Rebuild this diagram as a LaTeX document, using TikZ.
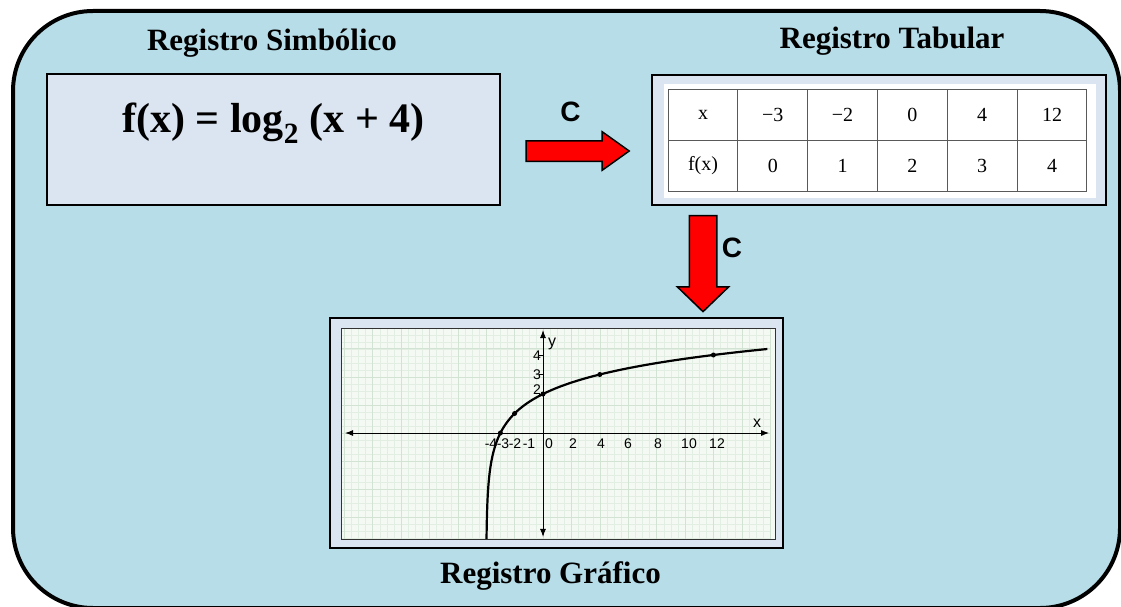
\documentclass[tikz,border=0pt]{standalone}
\usepackage{fontspec}
\setmainfont{Liberation Serif}
\setsansfont{Liberation Sans}
\usetikzlibrary{arrows.meta, positioning, shapes.arrows, matrix}
\definecolor{bgblue}{HTML}{B7DDE8}
\definecolor{boxblue}{HTML}{DBE5F1}
\definecolor{plotbg}{HTML}{F4F9F3}
\definecolor{gridminor}{HTML}{E3EEE3}
\definecolor{gridmajor}{HTML}{D3E3D3}

\begin{document}
\begin{tikzpicture}[x=1pt, y=-1pt,
    panel/.style={draw, line width=2pt, fill=boxblue, inner sep=0pt},
    regtitle/.style={font=\bfseries\fontsize{31}{36}\selectfont},
    convlabel/.style={font=\sffamily\bfseries\fontsize{28}{32}\selectfont},
    convarrow/.style={single arrow, draw, line width=1.5pt, fill=red,
                      single arrow head indent=0pt},
    cell/.style={draw=black!65, line width=1pt, minimum width=69.8pt, minimum height=51pt,
                 inner sep=0pt, anchor=center, font=\fontsize{20}{24}\selectfont},
    ticklab/.style={font=\sffamily\fontsize{14}{16}\selectfont, inner sep=0pt},
    dot/.style={circle, fill, inner sep=0pt, minimum size=5pt}]
  \useasboundingbox (0,0) rectangle (1121,607);
  \draw[line width=4pt, fill=bgblue, rounded corners=80pt] (13,11) rectangle (1120,608);

  % the three registers
  \node[panel, minimum width=453pt, minimum height=131pt] (symb) at (273.5,139.5) {};
  \node[panel, minimum width=454pt, minimum height=130pt] (tabbox) at (879,140) {};
  \node[panel, minimum width=453pt, minimum height=230pt] (graphbox) at (556.5,433) {};
  \node[regtitle, above=12pt of symb, xshift=-1.5pt] (titS) {Registro Simbólico};
  \node[regtitle, above=15pt of tabbox, xshift=13pt] (titT) {Registro Tabular};
  \node[regtitle, below=9pt of graphbox, xshift=-6pt] (titG) {Registro Gráfico};
  \node[font=\bfseries\fontsize{42}{48}\selectfont, below=26pt of symb.north] (formula)
    {f(x) = log\textsubscript{2} (x + 4)};

  % table
  \node[fill=white, minimum width=432pt, minimum height=114pt, inner sep=0pt] (tabin) at (880,141) {};
  \matrix (tab) [matrix of nodes, nodes={cell}, column sep=-1pt, row sep=-1pt] at (877.5,140) {
    x    & −3 & −2 & 0 & 4 & 12 \\
    f(x) & 0  & 1  & 2 & 3 & 4  \\
  };

  % conversions
  \node[convarrow, inner xsep=0pt, inner ysep=9.5pt, minimum height=103pt,
        single arrow head extend=9pt, single arrow tip angle=71] (toTab) at (570.5,151) {};
  \node[convlabel, above=15pt of toTab] (cS) {C};
  \node[convarrow, shape border rotate=270, inner xsep=13pt, inner ysep=0pt, minimum height=96pt,
        single arrow head extend=12pt, single arrow tip angle=92] (toGraph) at (703,257) {};
  \node[convlabel] (cT) at (732,248) {C};

  % graph
  \node[fill=plotbg, minimum width=433pt, minimum height=210pt, inner sep=0pt] (plotarea) at (558.5,434) {};
  \begin{scope}[shift={(543,433)}, x=14.2pt, y=19.5pt]
    \begin{scope}
      \clip (plotarea.south west) rectangle (plotarea.north east);
      \draw[gridminor, line width=0.4pt, step={(0.5,0.36)}] (-16,-6) grid (16,6);
      \draw[gridmajor, line width=0.6pt, step={(2,1.44)}] (-16,-6) grid (16,6);
      \draw[line width=2.2pt, smooth] plot[domain=-5.45:4.31, samples=150, variable=\t]
        ({pow(2,\t)-4}, \t);
    \end{scope}
    \coordinate (xl) at (-13.94,0);
    \coordinate (xr) at (15.92,0);
    \coordinate (yt) at (0,5.28);
    \coordinate (yb) at (0,-5.33);
    \draw[line width=0.9pt, {Latex[length=8pt,width=6pt]}-{Latex[length=8pt,width=6pt]}] (xl) -- (xr);
    \draw[line width=0.9pt, {Latex[length=8pt,width=6pt]}-{Latex[length=8pt,width=6pt]}] (yb) -- (yt);
    \foreach \k in {2,3,4}
      \draw[line width=0.8pt] (-0.25,\k) -- (0,\k);
    \foreach \a/\b in {-3/0, -2/1, 0/2, 4/3, 12/4}
      \node[dot] (p\a) at (\a,\b) {};
  \end{scope}
  \draw[black!80, line width=1pt] (plotarea.south west) rectangle (plotarea.north east);
  \foreach \v/\px in {-4/491, -3/503, -2/515, -1/529, 0/549, 2/573, 4/601, 6/628, 8/658, 10/689, 12/717}
    \node[ticklab] at (\px,444) {\v};
  \foreach \v/\py in {4/356, 3/375, 2/390}
    \node[ticklab] at (537,\py) {\v};
  \node[ticklab, font=\sffamily\fontsize{16}{18}\selectfont] (ylab) at (552,344) {y};
  \node[ticklab, font=\sffamily\fontsize{16}{18}\selectfont] (xlab) at (757,423) {x};
\end{tikzpicture}
\end{document}
